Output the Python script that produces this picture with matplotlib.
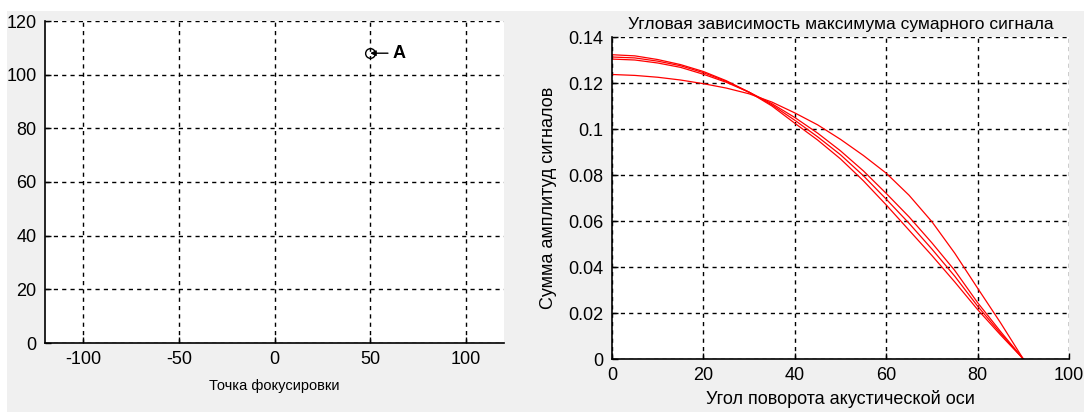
import numpy as np
import matplotlib
matplotlib.use('Agg')
import matplotlib.pyplot as plt
from matplotlib.patches import Rectangle

plt.rcParams['font.family'] = ['Liberation Sans', 'DejaVu Sans']
plt.rcParams['axes.unicode_minus'] = False

# focus point marker (left panel)
focus_x = 50
focus_y = 108
focus_label = 'A'

# angle of the acoustic axis, degrees
angle = [0, 5, 10, 15, 20, 25, 30, 35, 40, 45, 50, 55, 60, 65, 70, 75, 80, 85, 90]

# maximum of the summed signal for four runs
sum_1 = [0.1323, 0.1318, 0.1302, 0.1280, 0.1250, 0.1210, 0.1160, 0.1100, 0.1025, 0.0952,
         0.0870, 0.0775, 0.0670, 0.0560, 0.0450, 0.0335, 0.0215, 0.0105, 0.0]
sum_2 = [0.1313, 0.1309, 0.1295, 0.1275, 0.1245, 0.1207, 0.1160, 0.1105, 0.1038, 0.0966,
         0.0888, 0.0797, 0.0695, 0.0590, 0.0478, 0.0360, 0.0230, 0.0112, 0.0]
sum_3 = [0.1304, 0.1300, 0.1287, 0.1268, 0.1238, 0.1203, 0.1160, 0.1110, 0.1050, 0.0982,
         0.0905, 0.0818, 0.0720, 0.0618, 0.0505, 0.0385, 0.0245, 0.0120, 0.0]
sum_4 = [0.1237, 0.1233, 0.1225, 0.1213, 0.1197, 0.1178, 0.1153, 0.1117, 0.1070, 0.1018,
         0.0955, 0.0885, 0.0808, 0.0712, 0.0597, 0.0460, 0.0308, 0.0158, 0.0]

left_xticks = [-100, -50, 0, 50, 100]
left_yticks = [0, 20, 40, 60, 80, 100, 120]
right_xticks = [0, 20, 40, 60, 80, 100]
right_yticks = [0, 0.02, 0.04, 0.06, 0.08, 0.1, 0.12, 0.14]
right_yticklabels = ['0', '0.02', '0.04', '0.06', '0.08', '0.1', '0.12', '0.14']

W, H = 1084, 412
fig = plt.figure(figsize=(W / 100, H / 100), dpi=100, facecolor='white')
fig.patches.append(Rectangle((7 / W, 0), 1 - 7 / W, (H - 11) / H, transform=fig.transFigure,
                             facecolor='#f0f0f0', edgecolor='none', zorder=-10))


def px_axes(x0, y0, x1, y1):
    # pixel box (top-left origin) -> figure axes
    return fig.add_axes([x0 / W, (H - y1) / H, (x1 - x0) / W, (y1 - y0) / H])


def style(ax):
    ax.set_facecolor('white')
    for s in ('top', 'right'):
        ax.spines[s].set_visible(False)
    for s in ('left', 'bottom'):
        ax.spines[s].set_linewidth(1.2)
    ax.grid(True, color='black', linestyle=(0, (3, 3)), linewidth=1.0)
    ax.set_axisbelow(True)
    ax.tick_params(direction='in', length=4, width=1, labelsize=13, pad=6, colors='black')


ax0 = px_axes(45, 21, 504, 343)
style(ax0)
ax0.set_xlim(-120, 120)
ax0.set_ylim(0, 120)
ax0.set_xticks(left_xticks)
ax0.set_yticks(left_yticks)
ax0.plot([focus_x], [focus_y], 'o', mfc='none', mec='black', ms=7, mew=1)
ax0.annotate(focus_label, xy=(focus_x, focus_y), xytext=(61.5, focus_y), fontsize=13,
             fontweight='bold', ha='left', va='center',
             arrowprops=dict(arrowstyle='-|>', color='black', lw=1, shrinkA=1, shrinkB=0,
                             mutation_scale=8))
ax0.set_xlabel('Точка фокусировки', fontsize=10.5, labelpad=8)

ax1 = px_axes(612, 37, 1069, 359)
style(ax1)
for s in (sum_1, sum_2, sum_3, sum_4):
    ax1.plot(angle, s, color='#ff0000', linewidth=0.9)
ax1.set_xlim(0, 100)
ax1.set_ylim(0, 0.14)
ax1.set_xticks(right_xticks)
ax1.set_yticks(right_yticks)
ax1.set_yticklabels(right_yticklabels)
ax1.set_title('Угловая зависимость максимума сумарного сигнала', fontsize=12.5, pad=6)
ax1.set_xlabel('Угол поворота акустической оси', fontsize=13, labelpad=4)
ax1.set_ylabel('Сумма амплитуд сигналов', fontsize=13, labelpad=8)

fig.savefig('out.png', dpi=100, facecolor=fig.get_facecolor())
